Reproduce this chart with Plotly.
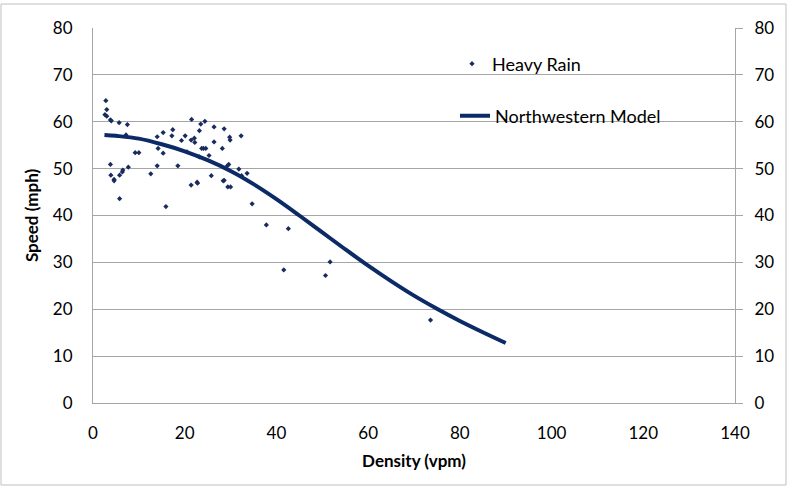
import plotly.graph_objects as go

# Heavy Rain observations (density vpm, speed mph)
rain_density = [2.8, 3.0, 2.6, 3.0, 3.8, 4.0, 5.7, 7.5, 7.2, 9.2, 10.0, 14.0, 15.3, 17.4,
                17.2, 14.2, 15.3, 14.0, 12.6, 7.7, 6.5, 6.4, 3.8, 3.9, 4.6, 4.6, 5.8, 5.8,
                15.9, 18.5, 19.3, 20.1, 21.5, 21.4, 22.1, 22.2, 23.2, 23.5, 24.4, 23.7,
                24.1, 24.6, 20.5, 23.2, 25.3, 26.4, 26.4, 28.6, 28.2, 25.8, 22.7, 22.8,
                21.4, 28.4, 29.8, 29.9, 32.3, 29.3, 29.6, 31.8, 33.6, 32.4, 28.6, 29.4,
                30.0, 34.7, 51.7, 50.7, 73.6, 37.8, 42.6, 41.6]
rain_speed = [64.5, 62.6, 61.5, 61.2, 60.4, 60.2, 59.8, 59.4, 57.2, 53.4, 53.4, 56.8, 57.7, 58.3,
              57.0, 54.3, 53.3, 50.6, 48.9, 50.3, 49.7, 49.3, 50.9, 48.6, 47.7, 47.4, 48.6, 43.6,
              41.9, 50.6, 56.0, 57.0, 60.5, 56.1, 56.5, 55.6, 58.1, 59.5, 60.1, 54.3,
              54.3, 54.3, 53.6, 52.5, 52.8, 58.9, 55.7, 58.5, 54.3, 48.5, 47.1, 46.9,
              46.5, 47.4, 56.7, 56.1, 57.0, 50.6, 50.9, 49.9, 49.0, 48.5, 47.5, 46.1,
              46.1, 42.5, 30.1, 27.2, 17.7, 38.0, 37.2, 28.4]

# Northwestern Model curve
model_density = [2.5, 5, 10, 15, 20, 25, 30, 35, 40, 45, 50, 55, 60, 65, 70, 75, 80, 85, 90]
model_speed = [57.2, 57.0, 56.4, 55.2, 53.7, 51.8, 49.5, 46.7, 43.5, 40.0, 36.4, 32.8, 29.3,
               26.0, 22.9, 20.1, 17.5, 15.1, 12.8]

x_ticks = [0, 20, 40, 60, 80, 100, 120, 140]
y_ticks = [0, 10, 20, 30, 40, 50, 60, 70, 80]

NAVY = "#0c2a66"
GRID = "#a6a6a6"
FONT = "Lato"

fig = go.Figure()
fig.add_trace(go.Scatter(x=rain_density, y=rain_speed, mode="markers", name="Heavy Rain",
                         marker=dict(symbol="diamond", size=4, color="#1a2c5e"),
                         legend="legend"))
fig.add_trace(go.Scatter(x=model_density, y=model_speed, mode="lines", name="Northwestern Model",
                         line=dict(color=NAVY, width=4, shape="spline"),
                         legend="legend2"))
fig.add_trace(go.Scatter(x=[0], y=[0], yaxis="y2", mode="markers", showlegend=False,
                         marker=dict(opacity=0), hoverinfo="skip"))

W, H = 792, 488
L, R, T, B = 93, 57, 28, 85
PW, PH = W - L - R, H - T - B

def px(xp):
    return (xp - L) / PW

def py(yp):
    return (H - B - yp) / PH

fig.update_layout(
    width=W, height=H,
    margin=dict(l=L, r=R, t=T, b=B),
    paper_bgcolor="white", plot_bgcolor="white",
    font=dict(family=FONT, size=17, color="#000000"),
    showlegend=True,
    legend=dict(x=px(452), y=py(64), xanchor="left", yanchor="middle",
                bgcolor="rgba(0,0,0,0)", font=dict(size=18)),
    legend2=dict(x=px(455), y=py(116), xanchor="left", yanchor="middle",
                 bgcolor="rgba(0,0,0,0)", font=dict(size=18)),
    xaxis=dict(range=[0, 140], tickvals=x_ticks, showgrid=False, zeroline=False,
               showline=True, linecolor=GRID, linewidth=1, ticks="",
               ticklabelstandoff=15,
               title=dict(text="<b>Density (vpm)</b>", font=dict(size=17), standoff=12)),
    yaxis=dict(range=[0, 80], tickvals=y_ticks, showgrid=True, gridcolor=GRID, gridwidth=1,
               zeroline=False, showline=True, linecolor=GRID, linewidth=1, ticks="",
               ticklabelstandoff=16,
               title=dict(text="<b>Speed (mph)</b>", font=dict(size=17), standoff=9)),
    yaxis2=dict(range=[0, 80], tickvals=y_ticks, overlaying="y", side="right", showgrid=False,
                zeroline=False, showline=True, linecolor=GRID, linewidth=1,
                ticks="outside", ticklen=7, tickcolor=GRID, ticklabelstandoff=8),
    shapes=[dict(type="rect", xref="paper", yref="paper",
                 x0=px(1), x1=px(786), y0=py(485), y1=py(4),
                 line=dict(color="#bfbfbf", width=1), fillcolor="rgba(0,0,0,0)", layer="below")],
)

fig.write_html("out.html")
